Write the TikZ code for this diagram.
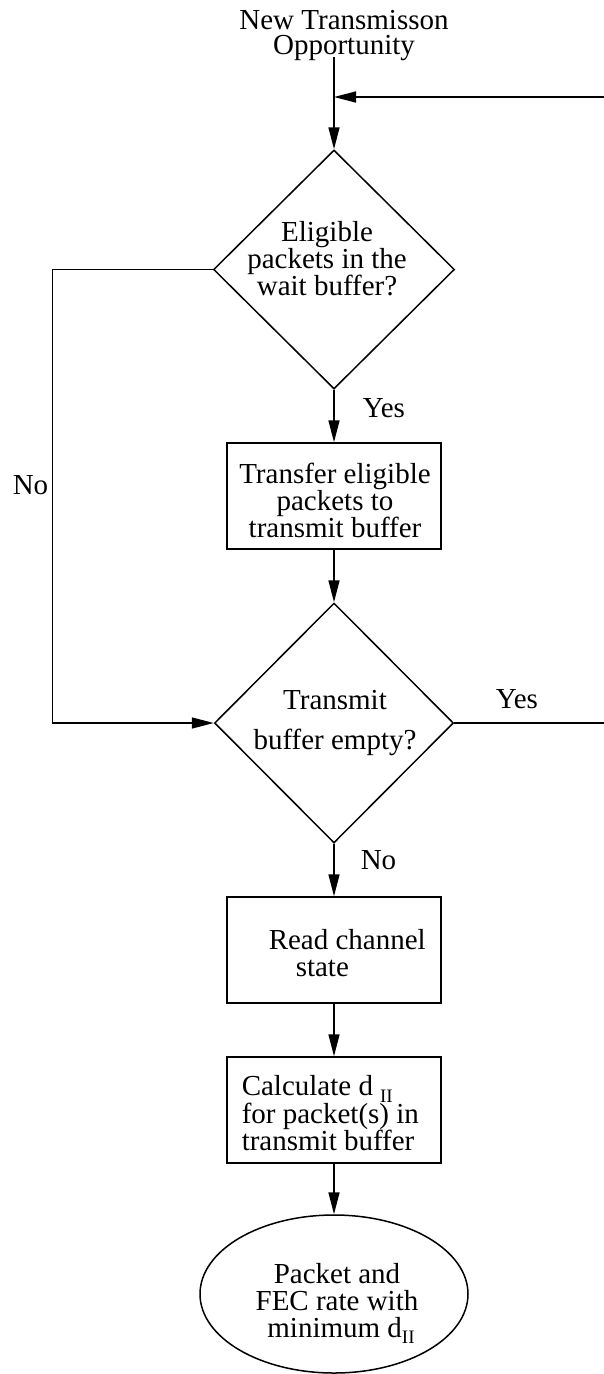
\documentclass[tikz,border=0pt]{standalone}
\usepackage{fontspec}
\setmainfont{Liberation Serif}
\usetikzlibrary{arrows.meta,shapes.geometric}
% lowered roman-numeral subscript used after the distance symbol d
\newcommand{\lowII}[1]{\raisebox{-#1}{\fontsize{19}{19}\selectfont II}}

\begin{document}
\begin{tikzpicture}[x=1pt,y=-1pt,line width=1.5pt,
  flow/.style={-{Triangle[length=22pt,width=11pt]}},
  decision/.style={draw,diamond,inner sep=0pt},
  process/.style={draw,rectangle,inner sep=0pt,minimum width=214pt,minimum height=106pt},
  terminal/.style={draw,ellipse,inner sep=0pt},
  txt/.style={font=\fontsize{29}{27}\selectfont,inner sep=0pt,align=center},
  lbl/.style={font=\fontsize{29}{27}\selectfont,inner sep=0pt},
]
\useasboundingbox (0,0) rectangle (604,1374);

% title
\node[txt,font=\fontsize{29}{25}\selectfont] (title) at (344,35.5) {New Transmisson\\Opportunity};

% shapes
\node[decision,minimum width=241pt,minimum height=239pt] (d1) at (334,269.5) {};
\node[process] (b1) at (334,496) {};
\node[decision,minimum width=239pt,minimum height=240pt] (d2) at (334,723) {};
\node[process] (b2) at (334,950) {};
\node[process] (b3) at (334,1110) {};
\node[terminal,minimum width=268pt,minimum height=158pt] (ell) at (334,1294) {};

% texts inside the shapes
\node[txt] (d1t) at (327,259) {Eligible\\packets in the\\wait buffer?};
\node[txt] (b1t) at (335,500) {Transfer eligible\\packets to\\transmit buffer};
\node[txt,font=\fontsize{29}{40}\selectfont] (d2t) at (335,723) {Transmit\\buffer empty?};
\node[txt,align=left,anchor=west] (b2t) at (268,953.5) {Read channel\\\hspace*{27pt}state};
\node[txt,align=left,anchor=west] (b3t) at (241,1113) {Calculate d\hspace{7pt}\lowII{7pt}\\for packet(s) in\\transmit buffer};
\node[txt] (ellt) at (337,1303) {Packet and\\FEC rate with\\\hspace*{8pt}minimum d\lowII{6pt}};

% branch labels
\node[lbl,anchor=base west] (y1) at (362,417) {Yes};
\node[lbl,anchor=base east] (n1) at (49,494) {No};
\node[lbl,anchor=base west] (y2) at (495,708) {Yes};
\node[lbl,anchor=base west] (n2) at (360,869) {No};

% connectors
\coordinate (start) at (334,57);
\coordinate (re) at (604,97);
\coordinate (ye) at (604,723);
\draw[flow] (start) -- (d1.north);
\draw[flow] (re) -- (re -| d1.north);
\draw[flow] (d1.south) -- (b1.north);
\draw[flow] (b1.south) -- (d2.north);
\draw[flow] (d2.south) -- (b2.north);
\draw[flow] (b2.south) -- (b3.north);
\draw[flow] (b3.south) -- (ell.north);
\draw[flow] (d1.west) -- ++(-160.5,0) |- (d2.west);
\draw (d2.east) -- (ye);
\end{tikzpicture}
\end{document}
